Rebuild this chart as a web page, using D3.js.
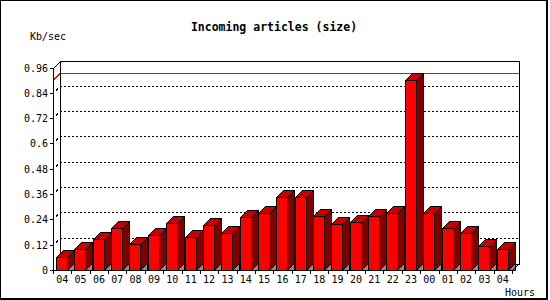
<!DOCTYPE html>
<html>
<head>
<meta charset="utf-8">
<script src="https://cdn.jsdelivr.net/npm/d3@7"></script>
<style>
  html, body { margin: 0; padding: 0; background: #fff; }
  svg { display: block; }
</style>
</head>
<body>
<svg id="chart" width="550" height="300"></svg>
<script>
const title = "Incoming articles (size)";
const yAxisTitle = "Kb/sec";
const xAxisTitle = "Hours";
const categories = ["04","05","06","07","08","09","10","11","12","13","14","15","16","17","18","19","20","21","22","23","00","01","02","03","04"];
const values = [0.060,0.098,0.145,0.197,0.121,0.164,0.221,0.155,0.211,0.174,0.249,0.268,0.348,0.344,0.254,0.216,0.226,0.254,0.268,0.902,0.268,0.197,0.174,0.112,0.098];
const yTicks = [0,0.12,0.24,0.36,0.48,0.6,0.72,0.84,0.96];
const yTickLabels = ["0","0.12","0.24","0.36","0.48","0.6","0.72","0.84","0.96"];

const svg = d3.select("#chart");
const depth = 7;
const x0 = 53, x1 = 512;
const x = d3.scaleBand().domain(d3.range(categories.length)).range([x0, x1]).padding(0);
const y = d3.scaleLinear().domain([0, 0.96]).range([270, 67.5]);
const mono = "'DejaVu Sans Mono', 'Liberation Mono', monospace";

// outer frame
svg.append("rect").attr("x",0.5).attr("y",0.5).attr("width",546).attr("height",298)
  .attr("fill","none").attr("stroke","#000").attr("stroke-width",1);
svg.append("line").attr("x1",547.5).attr("x2",547.5).attr("y1",0).attr("y2",300).attr("stroke","#000");
svg.append("line").attr("x1",0).attr("x2",548).attr("y1",299.5).attr("y2",299.5).attr("stroke","#000");

// title
svg.append("text").attr("x",274).attr("y",31).attr("text-anchor","middle")
  .attr("font-family",mono).attr("font-weight","bold").attr("font-size","11.5px").text(title);
svg.append("text").attr("x",30).attr("y",40)
  .attr("font-family",mono).attr("font-size","10px").text(yAxisTitle);
svg.append("text").attr("x",505).attr("y",296)
  .attr("font-family",mono).attr("font-size","10px").text(xAxisTitle);

const g = svg.append("g").attr("shape-rendering","crispEdges");
const yTop = y(0.96), yZero = y(0);

// back plane
g.append("rect").attr("x",x0+depth+0.5).attr("y",Math.round(yTop-depth)+0.5)
  .attr("width",x1-x0).attr("height",Math.round(yZero-yTop))
  .attr("fill","#fff").attr("stroke","#000");

// gridlines
yTicks.slice(1, -1).forEach(v => {
  const yy = Math.round(y(v)) + 0.5;
  g.append("line").attr("x1",x0+depth).attr("x2",x1+depth).attr("y1",yy-depth).attr("y2",yy-depth)
    .attr("stroke","#000").attr("stroke-dasharray","2,2");
  g.append("line").attr("x1",x0).attr("x2",x0+depth).attr("y1",yy).attr("y2",yy-depth)
    .attr("stroke","#000").attr("stroke-dasharray","0,4,3,10");
});

// max line
const vmax = d3.max(values);
const ym = Math.round(y(vmax));
g.append("rect").attr("x",x0+depth+1).attr("y",ym-depth).attr("width",x1-x0-1).attr("height",1)
  .attr("fill","#ff0000");
g.append("line").attr("x1",x0).attr("x2",x0+depth).attr("y1",ym+0.5).attr("y2",ym-depth+0.5)
  .attr("stroke","#ff0000");

// bars
const bw = 11;
values.forEach((v, i) => {
  const bx = Math.round(x(i)) + 3.5;
  const bt = Math.round(y(v)) + 0.5;
  const bb = yZero + 0.5;
  g.append("path").attr("d",`M${bx+bw},${bb}L${bx+bw+depth},${bb-depth}L${bx+bw+depth},${bb}Z`)
    .attr("fill","#8c8c8c").attr("stroke","#000");
  g.append("path").attr("d",`M${bx+bw},${bt}L${bx+bw+depth},${bt-depth}L${bx+bw+depth},${bb-depth}L${bx+bw},${bb}Z`)
    .attr("fill","#800000").attr("stroke","#000");
  g.append("path").attr("d",`M${bx},${bt}L${bx+depth},${bt-depth}L${bx+bw+depth},${bt-depth}L${bx+bw},${bt}Z`)
    .attr("fill","#c80000").attr("stroke","#000");
  g.append("rect").attr("x",bx).attr("y",bt).attr("width",bw).attr("height",bb-bt)
    .attr("fill","#ff0000").attr("stroke","#000");
});

// front axes
g.append("line").attr("x1",x0+0.5).attr("x2",x0+0.5).attr("y1",Math.round(yTop)).attr("y2",yZero+0.5).attr("stroke","#000");
g.append("line").attr("x1",x0+0.5).attr("x2",x0+depth+0.5).attr("y1",Math.round(yTop)+0.5).attr("y2",Math.round(yTop)-depth+0.5).attr("stroke","#000");
g.append("line").attr("x1",x0).attr("x2",x1+0.5).attr("y1",yZero+0.5).attr("y2",yZero+0.5).attr("stroke","#000");
g.append("line").attr("x1",x1+0.5).attr("x2",x1+depth+0.5).attr("y1",yZero+0.5).attr("y2",yZero-depth+0.5).attr("stroke","#000");

// y ticks
yTicks.forEach((v, i) => {
  const yy = Math.round(y(v)) + 0.5;
  g.append("line").attr("x1",x0-3).attr("x2",x0).attr("y1",yy).attr("y2",yy).attr("stroke","#000");
  svg.append("text").attr("x",x0-5).attr("y",yy+3.5).attr("text-anchor","end")
    .attr("font-family",mono).attr("font-size","10px").text(yTickLabels[i]);
});

// x ticks
d3.range(categories.length + 1).forEach(i => {
  const xx = Math.round(i < categories.length ? x(i) : x1) + 0.5;
  g.append("line").attr("x1",xx).attr("x2",xx).attr("y1",yZero).attr("y2",yZero+4).attr("stroke","#000");
});
categories.forEach((c, i) => {
  svg.append("text").attr("x",x(i)+x.bandwidth()/2).attr("y",283).attr("text-anchor","middle")
    .attr("font-family",mono).attr("font-size","10px").text(c);
});
</script>
</body>
</html>
